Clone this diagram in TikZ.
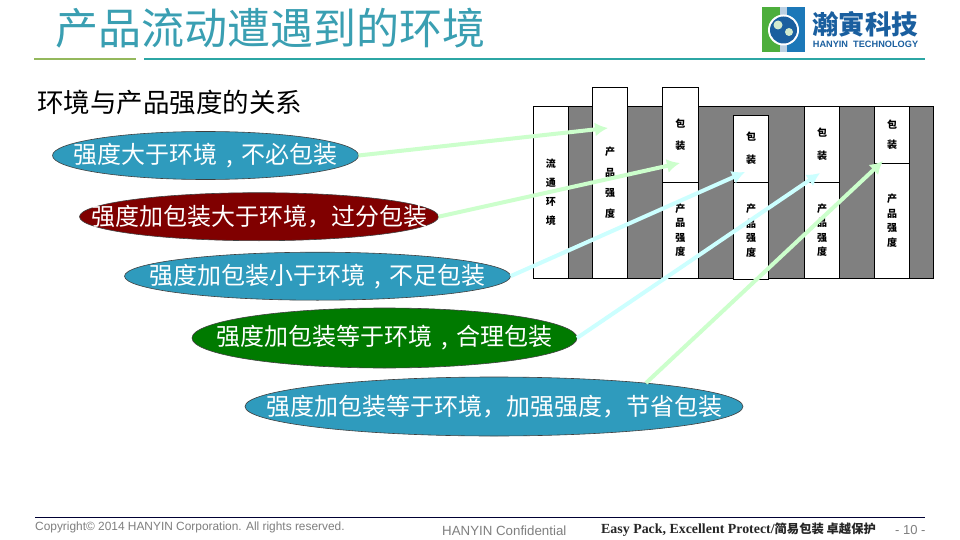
\documentclass[tikz,border=0pt]{standalone}
\usepackage{fontspec}
\setmainfont{Liberation Sans}
\newfontfamily\cjk{Noto Sans CJK SC}
\newfontfamily\serifb{Liberation Serif}
\usetikzlibrary{shapes.geometric,arrows.meta}
\definecolor{teal1}{HTML}{2CA6A4}
\definecolor{titlec}{HTML}{3A9FB2}
\definecolor{rulegreen}{HTML}{94B85C}
\definecolor{oval}{HTML}{2F9BBD}
\definecolor{ovalred}{HTML}{800000}
\definecolor{ovalgreen}{HTML}{007A00}
\definecolor{gbar}{HTML}{808080}
\definecolor{arrG}{HTML}{CCFFCC}
\definecolor{arrC}{HTML}{CCFFFF}
\definecolor{foot}{HTML}{7F7F7F}
\definecolor{logoB}{HTML}{1A5F9F}
\definecolor{logoBb}{HTML}{1C78B8}
\definecolor{logoG}{HTML}{4DAE3C}
\tikzset{
  col/.style={draw=black,line width=0.9pt,fill=white,inner sep=0pt,outer sep=0pt,anchor=north west},
  vtext/.style={font=\cjk\bfseries\fontsize{10}{#1}\selectfont,align=center,text=black},
  ovalnode/.style={ellipse,draw=black!75,line width=0.6pt,inner sep=0pt,outer sep=0pt},
  ovaltext/.style={inner sep=0pt,text=white,font=\cjk\fontsize{24}{24}\selectfont},
  flow/.style={line width=4pt,-{Latex[length=13pt,width=14pt]}},
}
\newcommand{\colbox}[7]{% name, x0, y0, x1, y1, line gap, text
  \node[col,minimum width=#4pt-#2pt,minimum height=#5pt-#3pt,vtext=#6] (#1) at (#2,#3) {#7};}
\newcommand{\gapc}{\hspace{9pt},\hspace{9pt}}
\begin{document}
\begin{tikzpicture}[x=1pt,y=-1pt]
\useasboundingbox (0,0) rectangle (960,540);
\fill[white] (0,0) rectangle (960,540);
% title
\node[anchor=west,inner sep=0pt,text=titlec,font=\cjk\fontsize{43}{43}\selectfont] (title) at (55,28) {产品流动遭遇到的环境};
\coordinate (ruleA) at (34,59);
\coordinate (ruleB) at (136,59);
\coordinate (ruleC) at (144,59);
\coordinate (ruleD) at (925,59);
\draw[line width=1.6pt,rulegreen] (ruleA) -- (ruleB);
\draw[line width=1.6pt,teal1] (ruleC) -- (ruleD);
% logo
\fill[logoG] (762,7.5) rectangle (780,52);
\fill[logoBb] (787,7.5) rectangle (805,52);
\fill[logoB!30!white] (780,7.5) rectangle (787,52);
\fill[white] (783.5,30) circle (15.5);
\fill[logoB] (783.5,30) circle (13.5);
\fill[white!75!logoG] (778,25) circle (4.5);
\fill[white!75!logoG] (789,32) circle (4);
\node[inner sep=0pt,text=logoB,font=\cjk\bfseries\fontsize{26.5}{27}\selectfont] (logoA) at (865,24) {瀚寅科技};
\node[inner sep=0pt,text=logoB,font=\bfseries\fontsize{9.2}{10}\selectfont] (logoT) at (865.5,44) {HANYIN\ \ TECHNOLOGY};
% subtitle
\node[anchor=west,inner sep=0pt,text=black,font=\cjk\fontsize{26.5}{27}\selectfont] (sub) at (37,102) {环境与产品强度的关系};
% diagram
\draw[draw=black,line width=0.9pt,fill=gbar] (533.3,106.7) rectangle (933,278);
\colbox{env}{533.3}{106.7}{568.5}{278}{19}{流\\通\\环\\境}
\colbox{p2}{592.5}{87.5}{627.5}{278}{20.6}{产\\品\\强\\度}
\colbox{b3}{662.5}{87.5}{698}{182.3}{22}{包\\装}
\colbox{p3}{662.5}{182.3}{698}{278}{14.5}{产\\品\\强\\度}
\colbox{b4}{733.5}{115}{768.5}{182.3}{23}{包\\装}
\colbox{p4}{733.5}{182.3}{768.5}{279}{14.5}{产\\品\\强\\度}
\colbox{b5}{804.5}{106.7}{839.5}{182.3}{23}{包\\装}
\colbox{p5}{804.5}{182.3}{839.5}{278}{14.5}{产\\品\\强\\度}
\colbox{b6}{874.5}{106.7}{909.5}{163.3}{20}{包\\装}
\colbox{p6}{874.5}{163.3}{909.5}{278}{14.5}{产\\品\\强\\度}
% ovals
\node[ovalnode,fill=oval,minimum width=306pt,minimum height=48pt,label={[ovaltext]center:强度大于环境\gapc 不必包装}] (e1) at (205.5,155.5) {};
\node[ovalnode,fill=ovalred,minimum width=359pt,minimum height=48pt,label={[ovaltext]center:强度加包装大于环境，过分包装}] (e2) at (259,216.7) {};
\node[ovalnode,fill=oval,minimum width=386pt,minimum height=48pt,label={[ovaltext]center:强度加包装小于环境\gapc 不足包装}] (e3) at (317.5,276.2) {};
\node[ovalnode,fill=ovalgreen,minimum width=385pt,minimum height=60pt,label={[ovaltext]center:强度加包装等于环境\gapc 合理包装}] (e4) at (384.5,338) {};
\node[ovalnode,fill=oval,minimum width=498pt,minimum height=59pt,label={[ovaltext]center:强度加包装等于环境，加强强度，节省包装}] (e5) at (494,406.5) {};
% arrows
\coordinate (t1) at (608,128);
\coordinate (t2) at (680,163);
\coordinate (t3) at (745,172);
\coordinate (t4) at (820,173);
\coordinate (t5) at (883,161);
\coordinate (s5) at (646,383);
\draw[flow,arrG] (e1.east) -- (t1);
\draw[flow,arrG] (e2.east) -- (t2);
\draw[flow,arrC] (e3.east) -- (t3);
\draw[flow,arrC] (e4.east) -- (t4);
\draw[flow,arrG] (s5) -- (t5);
% footer
\coordinate (footA) at (35,517);
\coordinate (footB) at (925,517);
\draw[line width=0.8pt,black!80!blue] (footA) -- (footB);
\node[anchor=west,inner sep=0pt,text=foot,font=\fontsize{11.9}{12}\selectfont] (copy) at (35,527) {Copyright© 2014 HANYIN Corporation. All rights reserved.};
\node[anchor=west,inner sep=0pt,text=foot,font=\fontsize{13.3}{14}\selectfont] (conf) at (442,530.5) {HANYIN Confidential};
\node[anchor=west,inner sep=0pt,text=black!85,font=\fontsize{13.9}{14}\selectfont] (easy) at (601,529.5) {{\serifb\bfseries Easy Pack, Excellent Protect/}{\cjk\bfseries\fontsize{12.3}{13}\selectfont 简易包装 卓越保护}};
\node[anchor=west,inner sep=0pt,text=foot,font=\fontsize{13}{14}\selectfont] (page) at (895,530.5) {- 10 -};
\end{tikzpicture}
\end{document}
